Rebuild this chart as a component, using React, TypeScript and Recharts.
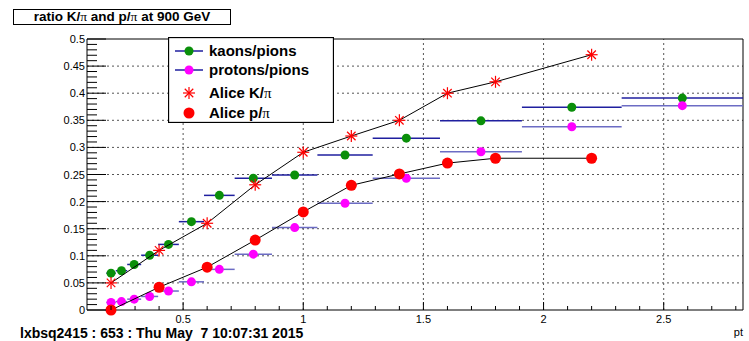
import { ComposedChart, ErrorBar, Legend, ReferenceLine, Scatter, XAxis, YAxis } from "recharts";

// pt bin edges shared by the kaon and proton ratios (log-spaced)
const binEdges = [
  0.1804, 0.2196, 0.2673, 0.3254, 0.3961, 0.4822, 0.587, 0.7145, 0.8698, 1.0588, 1.2889, 1.569, 1.91,
  2.325, 2.83,
];
const kaonRatio = [0.068, 0.0725, 0.084, 0.101, 0.121, 0.163, 0.2115, 0.243, 0.249, 0.286, 0.317, 0.349, 0.374, 0.391];
const protonRatio = [0.014, 0.0155, 0.02, 0.025, 0.035, 0.052, 0.075, 0.103, 0.152, 0.197, 0.243, 0.292, 0.338, 0.377];

// ALICE reference points
const alicePt = [0.2, 0.4, 0.6, 0.8, 1.0, 1.2, 1.4, 1.6, 1.8, 2.2];
const aliceKaonRatio = [0.05, 0.11, 0.16, 0.231, 0.291, 0.321, 0.35, 0.4, 0.421, 0.471];
const aliceProtonRatio = [0.0, 0.042, 0.079, 0.129, 0.181, 0.23, 0.251, 0.271, 0.28, 0.28];

const X_MIN = 0.1;
const X_MAX = 2.83;
const xTicks = [
  0.2, 0.3, 0.4, 0.5, 0.6, 0.7, 0.8, 0.9, 1, 1.1, 1.2, 1.3, 1.4, 1.5, 1.6, 1.7, 1.8, 1.9, 2, 2.1, 2.2, 2.3, 2.4, 2.5,
  2.6, 2.7, 2.8,
];
const xGrid = [0.5, 1, 1.5, 2, 2.5];
const yTicks = Array.from({ length: 51 }, (_, i) => +(i * 0.01).toFixed(2));
const yGrid = [0.05, 0.1, 0.15, 0.2, 0.25, 0.3, 0.35, 0.4, 0.45];

const KAON_GREEN = "#0a8f0a";
const KAON_BAR = "#1f1f9f";
const PROTON_BAR = "#6c6cc4";
const FONT = '"Liberation Sans", Arial, Helvetica, sans-serif';
const SERIF = '"Liberation Serif", "DejaVu Serif", serif';

const binned = (values: number[]) =>
  values.map((y, i) => {
    const lo = binEdges[i];
    const hi = binEdges[i + 1];
    const x = (lo + hi) / 2;
    return { x, y, xErr: [x - lo, hi - x] };
  });

const kaonData = binned(kaonRatio);
const protonData = binned(protonRatio);
const aliceKaonData = alicePt.map((x, i) => ({ x, y: aliceKaonRatio[i] }));
const aliceProtonData = alicePt.map((x, i) => ({ x, y: aliceProtonRatio[i] }));

const isMajor = (v: number, step: number) => Math.abs(v / step - Math.round(v / step)) < 1e-6;
const fmt = (v: number) => String(+v.toFixed(2));

const Star = ({ cx, cy, r = 6 }: { cx: number; cy: number; r?: number }) => {
  const d = r * 0.707;
  return (
    <g stroke="#ff0000" strokeWidth={1.2}>
      <line x1={cx - r} y1={cy} x2={cx + r} y2={cy} />
      <line x1={cx} y1={cy - r} x2={cx} y2={cy + r} />
      <line x1={cx - d} y1={cy - d} x2={cx + d} y2={cy + d} />
      <line x1={cx - d} y1={cy + d} x2={cx + d} y2={cy - d} />
    </g>
  );
};

const Y_MARGIN = 2;
const renderYTick = (p: any) => {
  const v = p.payload.value as number;
  const major = isMajor(v, 0.05);
  const ax = p.x + Y_MARGIN;
  return (
    <g>
      <line x1={ax} x2={ax + (major ? 19 : 10)} y1={p.y} y2={p.y} stroke="#000" />
      {major && (
        <text x={p.x} y={p.y + 4} textAnchor="end" fontSize={11} fontFamily={FONT} fill="#000">
          {fmt(v)}
        </text>
      )}
    </g>
  );
};

const renderXTick = (p: any) => {
  const v = p.payload.value as number;
  const major = isMajor(v, 0.5);
  const ay = p.y;
  return (
    <g>
      <line x1={p.x} x2={p.x} y1={ay} y2={ay - (major ? 8 : 4)} stroke="#000" />
      {major && (
        <text x={p.x} y={ay + 13} textAnchor="middle" fontSize={11} fontFamily={FONT} fill="#000">
          {fmt(v)}
        </text>
      )}
    </g>
  );
};

const Pi = () => (
  <tspan fontFamily={SERIF} fontWeight={400}>
    π
  </tspan>
);

const renderLegend = () => (
  <svg width={166} height={86} style={{ display: "block" }}>
    <rect x={0.5} y={0.5} width={165} height={85} fill="#fff" stroke="#000" strokeWidth={1.3} />
    <g fontFamily={FONT} fontWeight={700} fontSize={15} fill="#000">
      <line x1={7} x2={35} y1={14} y2={14} stroke={KAON_BAR} strokeWidth={1.5} />
      <circle cx={21} cy={14} r={4.5} fill={KAON_GREEN} />
      <text x={41} y={19}>kaons/pions</text>

      <line x1={7} x2={35} y1={33} y2={33} stroke={KAON_BAR} strokeWidth={1.5} />
      <circle cx={21} cy={33} r={4.5} fill="#ff00ff" />
      <text x={41} y={38}>protons/pions</text>

      <Star cx={21} cy={56} />
      <text x={41} y={61}>
        Alice K/<Pi />
      </text>

      <circle cx={21} cy={76} r={5.5} fill="#ff0000" />
      <text x={41} y={81}>
        Alice p/<Pi />
      </text>
    </g>
  </svg>
);

export default function App() {
  return (
    <div style={{ position: "absolute", left: 0, top: 0, width: 749, height: 341, background: "#fff" }}>
      <div
        style={{
          position: "absolute",
          left: 13,
          top: 9,
          width: 218,
          height: 16,
          boxSizing: "border-box",
          border: "1px solid #000",
          background: "#fff",
          fontFamily: FONT,
          fontWeight: 700,
          fontSize: 13.5,
          lineHeight: "14px",
          textAlign: "center",
          whiteSpace: "nowrap",
        }}
      >
        ratio K/<span style={{ fontFamily: SERIF, fontWeight: 400 }}>π</span> and p/
        <span style={{ fontFamily: SERIF, fontWeight: 400 }}>π</span> at 900 GeV
      </div>

      <ComposedChart width={749} height={341} margin={{ top: 39, right: 6, bottom: 0, left: 0 }}>
        <XAxis
          type="number"
          dataKey="x"
          domain={[X_MIN, X_MAX]}
          ticks={xTicks}
          interval={0}
          tickSize={0}
          tickMargin={0}
          tick={renderXTick}
          tickLine={false}
          axisLine={{ stroke: "#000" }}
          height={31}
          label={{
            value: "pt",
            position: "insideBottomRight",
            offset: 5,
            dx: 5,
            fontSize: 11,
            fontFamily: FONT,
            fill: "#000",
          }}
        />
        <YAxis
          type="number"
          domain={[0, 0.5]}
          ticks={yTicks}
          interval={0}
          tickSize={0}
          tickMargin={Y_MARGIN}
          tick={renderYTick}
          tickLine={false}
          axisLine={{ stroke: "#000" }}
          width={87}
        />

        {yGrid.map((v) => (
          <ReferenceLine key={`y${v}`} y={v} stroke="#555" strokeDasharray="2 3" />
        ))}
        {xGrid.map((v) => (
          <ReferenceLine key={`x${v}`} x={v} stroke="#555" strokeDasharray="2 3" />
        ))}
        <ReferenceLine y={0.5} stroke="#000" />
        <ReferenceLine x={X_MAX} stroke="#000" />

        <Scatter
          data={kaonData}
          dataKey="y"
          isAnimationActive={false}
          shape={(p: any) => <circle cx={p.cx} cy={p.cy} r={4.5} fill={KAON_GREEN} />}
        >
          <ErrorBar dataKey="xErr" direction="x" width={0} stroke={KAON_BAR} strokeWidth={1.5} />
        </Scatter>
        <Scatter
          data={protonData}
          dataKey="y"
          isAnimationActive={false}
          shape={(p: any) => <circle cx={p.cx} cy={p.cy} r={4.5} fill="#ff00ff" />}
        >
          <ErrorBar dataKey="xErr" direction="x" width={0} stroke={PROTON_BAR} strokeWidth={1.5} />
        </Scatter>
        <Scatter
          data={aliceKaonData}
          dataKey="y"
          isAnimationActive={false}
          line={{ stroke: "#000", strokeWidth: 1 }}
          shape={(p: any) => <Star cx={p.cx} cy={p.cy} />}
        />
        <Scatter
          data={aliceProtonData}
          dataKey="y"
          isAnimationActive={false}
          line={{ stroke: "#000", strokeWidth: 1 }}
          shape={(p: any) => <circle cx={p.cx} cy={p.cy} r={5.5} fill="#ff0000" />}
        />

        <Legend
          layout="horizontal"
          verticalAlign="middle"
          align="center"
          content={renderLegend}
          wrapperStyle={{ left: 168, top: 37, width: 166, height: 86 }}
        />
      </ComposedChart>

      <div
        style={{
          position: "absolute",
          left: 20,
          top: 325,
          fontFamily: FONT,
          fontWeight: 700,
          fontSize: 14,
          lineHeight: "16px",
          whiteSpace: "pre",
        }}
      >
        lxbsq2415 : 653 : Thu May  7 10:07:31 2015
      </div>
    </div>
  );
}
